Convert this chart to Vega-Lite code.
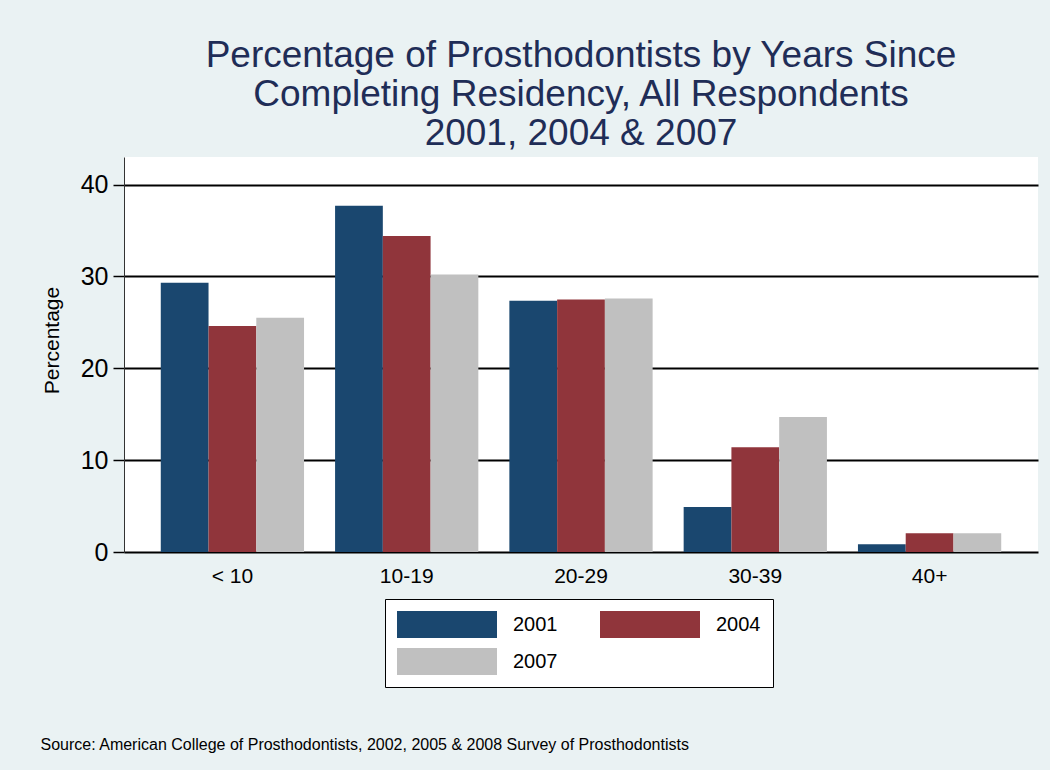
{
  "$schema": "https://vega.github.io/schema/vega-lite/v6.json",
  "autosize": "none",
  "width": 914,
  "height": 395,
  "padding": {"left": 124, "top": 157, "right": 12, "bottom": 218},
  "background": "#EAF2F3",
  "config": {
    "font": "Liberation Sans",
    "view": {"fill": "white", "stroke": null}
  },
  "title": {
    "text": ["Percentage of Prosthodontists by Years Since", "Completing Residency, All Respondents", "2001, 2004 & 2007"],
    "font": "Liberation Sans",
    "fontSize": 37,
    "fontWeight": "normal",
    "color": "#1F2D57",
    "lineHeight": 39,
    "anchor": "middle",
    "frame": "group",
    "offset": 4
  },
  "data": {
    "values": [
      {"group": "< 10", "year": "2001", "pct": 29.3},
      {"group": "< 10", "year": "2004", "pct": 24.6},
      {"group": "< 10", "year": "2007", "pct": 25.5},
      {"group": "10-19", "year": "2001", "pct": 37.7},
      {"group": "10-19", "year": "2004", "pct": 34.4},
      {"group": "10-19", "year": "2007", "pct": 30.2},
      {"group": "20-29", "year": "2001", "pct": 27.35},
      {"group": "20-29", "year": "2004", "pct": 27.5},
      {"group": "20-29", "year": "2007", "pct": 27.6},
      {"group": "30-39", "year": "2001", "pct": 4.9},
      {"group": "30-39", "year": "2004", "pct": 11.4},
      {"group": "30-39", "year": "2007", "pct": 14.7},
      {"group": "40+", "year": "2001", "pct": 0.85},
      {"group": "40+", "year": "2004", "pct": 2.05},
      {"group": "40+", "year": "2007", "pct": 2.05}
    ]
  },
  "mark": {"type": "bar"},
  "encoding": {
    "x": {
      "field": "group",
      "type": "nominal",
      "sort": ["< 10", "10-19", "20-29", "30-39", "40+"],
      "scale": {"paddingInner": 0.178, "paddingOuter": 0.211},
      "axis": {
        "labelAngle": 0,
        "labelFontSize": 21,
        "labelColor": "black",
        "labelPadding": 13,
        "ticks": false,
        "domain": false,
        "grid": false,
        "title": "Source: American College of Prosthodontists, 2002, 2005 & 2008 Survey of Prosthodontists",
        "titleFontSize": 16,
        "titleFontWeight": "normal",
        "titleColor": "black",
        "titleAnchor": "start",
        "titleAlign": "left",
        "titleBaseline": "alphabetic",
        "titleX": -84,
        "titleY": 197
      }
    },
    "xOffset": {
      "field": "year",
      "type": "nominal",
      "scale": {"paddingInner": 0, "paddingOuter": 0}
    },
    "y": {
      "field": "pct",
      "type": "quantitative",
      "scale": {"domain": [0, 43], "nice": false, "zero": true},
      "axis": {
        "values": [0, 10, 20, 30, 40],
        "grid": true,
        "gridColor": "black",
        "gridWidth": 2,
        "gridOpacity": 1,
        "domain": true,
        "domainColor": "#333333",
        "domainWidth": 1,
        "ticks": true,
        "tickColor": "black",
        "tickSize": 11,
        "tickWidth": 1.5,
        "labelFontSize": 25,
        "labelColor": "black",
        "labelPadding": 5,
        "title": "Percentage",
        "titleFontSize": 21,
        "titleFontWeight": "normal",
        "titleColor": "black",
        "titlePadding": 18,
        "titleY": 183
      }
    },
    "color": {
      "field": "year",
      "type": "nominal",
      "scale": {"domain": ["2001", "2004", "2007"], "range": ["#1A476F", "#90353B", "#C0C0C0"]},
      "legend": {
        "title": null,
        "orient": "none",
        "legendX": 261,
        "legendY": 442,
        "direction": "horizontal",
        "columns": 2,
        "columnPadding": 42,
        "rowPadding": 10,
        "symbolType": "M-1,-0.27L1,-0.27L1,0.27L-1,0.27Z",
        "symbolSize": 10000,
        "symbolStrokeWidth": 0,
        "clipHeight": 27,
        "labelFontSize": 20,
        "labelColor": "black",
        "labelOffset": 16,
        "padding": 12,
        "fillColor": "white",
        "strokeColor": "black"
      }
    }
  }
}
